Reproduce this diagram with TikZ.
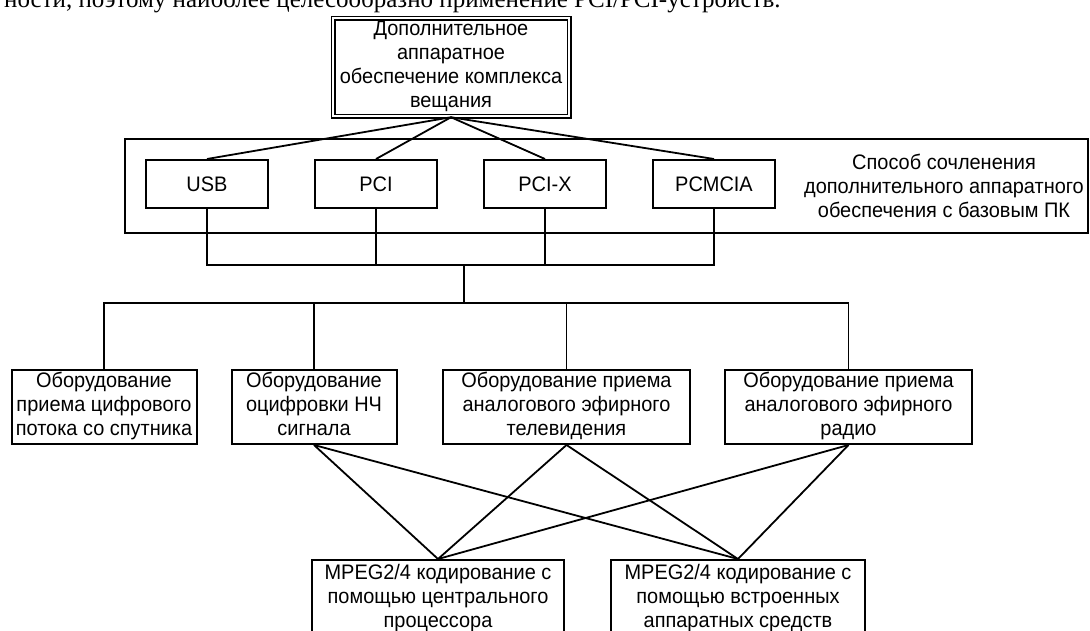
\documentclass[tikz,border=0pt]{standalone}
\usepackage{fontspec}
\setmainfont{Liberation Sans}[FakeStretch=0.95]
\newfontfamily\bodyserif{Liberation Serif}
\usetikzlibrary{positioning}

\begin{document}
\begin{tikzpicture}[x=1pt,y=-1pt,line width=1.8pt,node distance=45pt,
                    every node/.style={font=\fontsize{21}{24}\selectfont},
                    main node/.style={draw,line width=2pt,align=center,inner sep=0pt},
                    lines node/.style={main node,execute at begin node=\strut,execute at end node=\strut},
                    port node/.style={main node,minimum width=122pt,minimum height=48pt},
                    unit node/.style={lines node,minimum height=74pt}]

  \useasboundingbox (0,0) rectangle (1090,631);
  \clip (0,0) rectangle (1090,631);

  \node[anchor=base west,font=\bodyserif\fontsize{25}{28}\selectfont] (0) at (0,8)
    {ности, поэтому наиболее целесообразно применение PCI/PCI-устройств.};

  \node[lines node,double,double distance=2pt,line width=1.5pt,minimum width=236pt,minimum height=98pt] (1) at (451,67.5)
    {Дополнительное\\аппаратное\\обеспечение комплекса\\вещания};

  \node[draw,line width=2pt,minimum width=963pt,minimum height=94pt] (2) at (606.5,186) {};
  \node[port node] (3) at (207,184) {USB};
  \node[port node] (4) [right=of 3] {PCI};
  \node[port node] (5) [right=of 4] {PCI-X};
  \node[port node] (6) [right=of 5] {PCMCIA};
  \node[align=center] (7) at (944,186) {Способ сочленения\\дополнительного аппаратного\\обеспечения с базовым ПК};

  \node[unit node,minimum width=185pt] (8) at (104,407) {Оборудование\\приема цифрового\\потока со спутника};
  \node[unit node,minimum width=165pt] (9) at (314,407) {Оборудование\\оцифровки НЧ\\сигнала};
  \node[unit node,minimum width=247pt] (10) at (566.5,407) {Оборудование приема\\аналогового эфирного\\телевидения};
  \node[unit node,minimum width=247pt] (11) at (848.5,407) {Оборудование приема\\аналогового эфирного\\радио};

  \node[lines node,minimum width=252pt,minimum height=78pt] (12) at (438,599) {MPEG2/4 кодирование с\\помощью центрального\\процессора};
  \node[lines node,minimum width=254pt,minimum height=78pt] (13) at (738,599) {MPEG2/4 кодирование с\\помощью встроенных\\аппаратных средств};

  \coordinate (a) at (464,265);
  \coordinate (b) at (464,303);

  \path (1.south) edge (3.north) edge (4.north) edge (5.north) edge (6.north);
  \draw (3.south) |- (6.south |- a) -- (6.south);
  \draw (4.south) -- (4.south |- a) (5.south) -- (5.south |- a);
  \draw (a) -- (b);
  \draw (8.north) |- (11.north |- b) -- (11.north);
  \draw (9.north) -- (9.north |- b) (10.north) -- (10.north |- b);
  \path (9.south) edge (12.north) edge (13.north)
        (10.south) edge (12.north) edge (13.north)
        (11.south) edge (12.north) edge (13.north);

\end{tikzpicture}
\end{document}
